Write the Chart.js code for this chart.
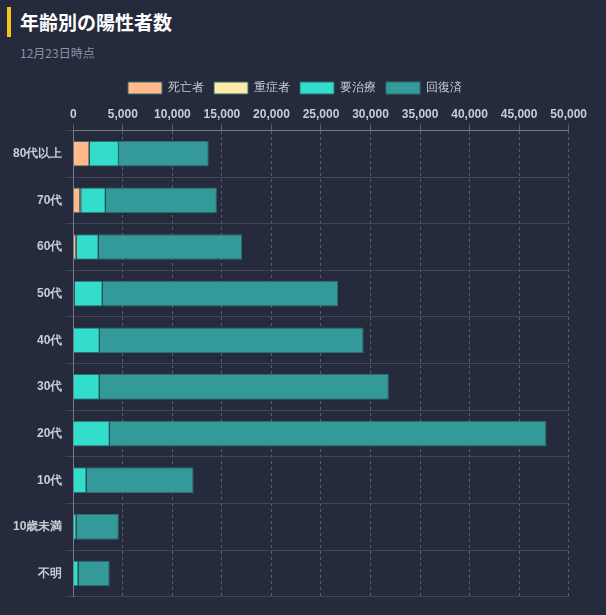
<!DOCTYPE html>
<html><head><meta charset="utf-8">
<script src="https://cdn.jsdelivr.net/npm/chart.js@4"></script>
<style>
body{margin:0;background:#252a3c;font-family:"Noto Sans CJK JP",Roboto,sans-serif;}
#head{position:absolute;left:7px;top:7px;border-left:4px solid #f5c518;padding-left:9px;height:30px;}
#head h1{margin:0;color:#fff;font-size:19px;font-weight:bold;line-height:30px;}
#sub{position:absolute;left:20px;top:44px;color:#8d93a3;font-size:12px;}
#wrap{position:absolute;left:0;top:72px;width:590px;height:535px;}
</style></head><body>
<div id="head"><h1>年齢別の陽性者数</h1></div>
<div id="sub">12月23日時点</div>
<div id="wrap"><canvas id="c"></canvas></div>
<script>
const categories = ["80代以上","70代","60代","50代","40代","30代","20代","10代","10歳未満","不明"];
const deaths    = [1630, 700, 300, 100, 30, 10, 0, 0, 0, 0];
const severe    = [50, 90, 60, 40, 15, 5, 5, 0, 0, 0];
const treating  = [2920, 2480, 2190, 2820, 2620, 2640, 3670, 1330, 310, 510];
const recovered = [9070, 11220, 14490, 23770, 26640, 29190, 44090, 10810, 4280, 3160];
const tickColor = "#c9ccd4";

new Chart(document.getElementById("c"), {
    type: "bar",
    data: {
        labels: categories,
        datasets: [
            { label: "死亡者", data: deaths, backgroundColor: "#ffb98a", borderColor: "#2f6d70", borderWidth: 1 },
            { label: "重症者", data: severe, backgroundColor: "#ffeaa7", borderColor: "#2f6d70", borderWidth: 1 },
            { label: "要治療", data: treating, backgroundColor: "#32ddcc", borderColor: "#2f6d70", borderWidth: 1 },
            { label: "回復済", data: recovered, backgroundColor: "#339999", borderColor: "#2f6d70", borderWidth: 1 }
        ]
    },
    options: {
        indexAxis: "y",
        responsive: true,
        maintainAspectRatio: false,
        animation: false,
        layout: { padding: { top: 0, right: 10, bottom: 0, left: 10 } },
        datasets: { bar: { barPercentage: 0.55, categoryPercentage: 1 } },
        plugins: {
            legend: {
                labels: { color: tickColor, boxWidth: 34, boxHeight: 12, font: { size: 12 } }
            },
            tooltip: { enabled: false }
        },
        scales: {
            x: {
                stacked: true, position: "top", min: 0, max: 50000,
                ticks: { stepSize: 5000, color: tickColor, font: { size: 12, weight: "bold" } },
                grid: { color: "#5a5f70", tickLength: 6 },
                border: { dash: [3, 3], color: "#777b88" }
            },
            y: {
                stacked: true,
                ticks: { color: tickColor, font: { size: 12, weight: "bold" } },
                grid: { color: "#41465a", offset: true },
                border: { color: "#777b88" }
            }
        }
    }
});
</script>
</body></html>
